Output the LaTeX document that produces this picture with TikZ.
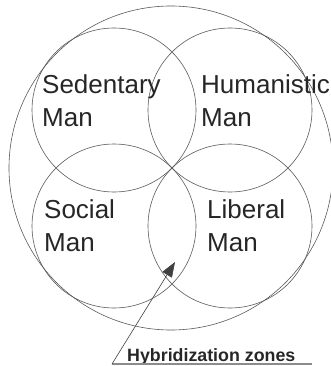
\documentclass[tikz,border=0pt]{standalone}
\usepackage{fontspec}
\setmainfont{Liberation Sans}
\usetikzlibrary{arrows.meta}
\begin{document}
\begin{tikzpicture}[x=1pt,y=-1pt,
  ring/.style={draw=black!65,line width=0.6pt},
  lbl/.style={anchor=base west,inner sep=0pt,align=left,text=black!85,font=\fontsize{26}{33}\selectfont},
  hyb/.style={anchor=base west,inner sep=0pt,font=\fontsize{17.8}{20}\selectfont\bfseries,text=black!85}]
\useasboundingbox (0,0) rectangle (331,366);
\draw[ring] (171,168) circle[radius=162];
\draw[ring] (114,110) circle[radius=82];
\draw[ring] (230,110) circle[radius=82];
\draw[ring] (114,226) circle[radius=82];
\draw[ring] (230,226) circle[radius=82];
\node[lbl] (sed) at (42,127) {Sedentary\\Man};
\node[lbl] (hum) at (201,127) {Humanistic\\Man};
\node[lbl] (soc) at (44,251) {Social\\Man};
\node[lbl] (lib) at (207,251) {Liberal\\Man};
\node[hyb] (hz) at (127,361) {Hybridization zones};
\coordinate (ul) at (112,364);
\coordinate (ur) at (312,364);
\coordinate (tip) at (175,262);
\draw[black!45,line width=1.4pt] (ul) -- (ur);
\draw[black!75,line width=0.6pt,-{Triangle[length=15pt,width=11pt]}] (ul) -- (tip);
\end{tikzpicture}
\end{document}
